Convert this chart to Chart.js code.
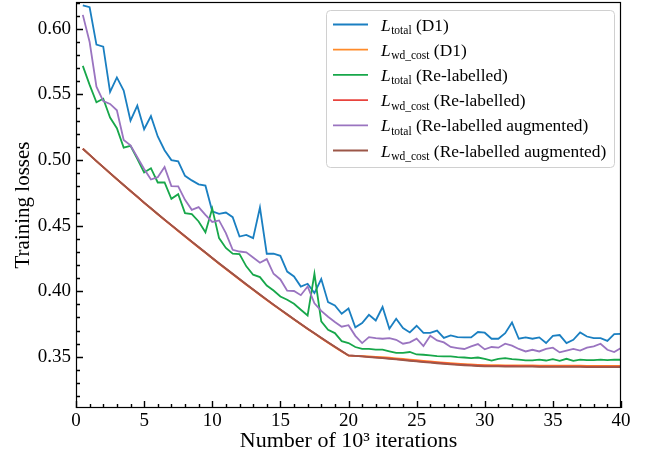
<!DOCTYPE html>
<html>
<head>
<meta charset="utf-8">
<script src="https://cdn.jsdelivr.net/npm/chart.js@4.4.1/dist/chart.umd.min.js"></script>
<style>
  html, body { margin: 0; padding: 0; background: #ffffff; }
  #wrap { position: relative; width: 654px; height: 459px; }
</style>
</head>
<body>
<div id="wrap"><canvas id="c" width="654" height="459"></canvas></div>
<script>
// Training iterations (thousands)
const iterations = [
  0.5, 1, 1.5, 2, 2.5, 3, 3.5, 4, 4.5, 5, 5.5, 6, 6.5, 7, 7.5, 8, 8.5, 9, 9.5, 10,
  10.5, 11, 11.5, 12, 12.5, 13, 13.5, 14, 14.5, 15, 15.5, 16, 16.5, 17, 17.5, 18, 18.5, 19, 19.5, 20,
  20.5, 21, 21.5, 22, 22.5, 23, 23.5, 24, 24.5, 25, 25.5, 26, 26.5, 27, 27.5, 28, 28.5, 29, 29.5, 30,
  30.5, 31, 31.5, 32, 32.5, 33, 33.5, 34, 34.5, 35, 35.5, 36, 36.5, 37, 37.5, 38, 38.5, 39, 39.5, 40
];

// L_total, D1
const totalD1 = [
  0.6180, 0.6165, 0.5880, 0.5865, 0.5520, 0.5630, 0.5530, 0.5300, 0.5415, 0.5235,
  0.5335, 0.5180, 0.5075, 0.5000, 0.4990, 0.4880, 0.4845, 0.4815, 0.4805, 0.4610,
  0.4590, 0.4600, 0.4565, 0.4417, 0.4430, 0.4405, 0.4638, 0.4286, 0.4286, 0.4270,
  0.4150, 0.4113, 0.4036, 0.4057, 0.3986, 0.4093, 0.3917, 0.3892, 0.3828, 0.3868,
  0.3725, 0.3757, 0.3820, 0.3777, 0.3880, 0.3714, 0.3790, 0.3720, 0.3686, 0.3737,
  0.3682, 0.3682, 0.3700, 0.3644, 0.3663, 0.3650, 0.3648, 0.3648, 0.3689, 0.3684,
  0.3638, 0.3638, 0.3680, 0.3762, 0.3638, 0.3648, 0.3638, 0.3648, 0.3605, 0.3660,
  0.3666, 0.3605, 0.3630, 0.3686, 0.3655, 0.3643, 0.3643, 0.3622, 0.3673, 0.3675
];

// L_wd_cost, D1
const wdCostD1 = [
  0.5086, 0.5039, 0.4992, 0.4946, 0.4899, 0.4854, 0.4809, 0.4764, 0.4719, 0.4674,
  0.4631, 0.4587, 0.4544, 0.4502, 0.4459, 0.4417, 0.4375, 0.4334, 0.4293, 0.4251,
  0.4210, 0.4170, 0.4130, 0.4090, 0.4050, 0.4011, 0.3972, 0.3933, 0.3895, 0.3858,
  0.3821, 0.3784, 0.3748, 0.3712, 0.3677, 0.3642, 0.3608, 0.3574, 0.3541, 0.3510,
  0.3508, 0.3506, 0.3503, 0.3500, 0.3497, 0.3493, 0.3488, 0.3484, 0.3479, 0.3474,
  0.3469, 0.3465, 0.3460, 0.3456, 0.3452, 0.3448, 0.3445, 0.3442, 0.3439, 0.3437,
  0.3436, 0.3436, 0.3435, 0.3435, 0.3434, 0.3434, 0.3434, 0.3433, 0.3433, 0.3433,
  0.3432, 0.3432, 0.3432, 0.3432, 0.3431, 0.3431, 0.3431, 0.3431, 0.3430, 0.3430
];

// L_total, re-labelled
const totalRelabelled = [
  0.5718, 0.5573, 0.5440, 0.5467, 0.5324, 0.5243, 0.5095, 0.5108, 0.5010, 0.4905,
  0.4938, 0.4829, 0.4829, 0.4705, 0.4740, 0.4596, 0.4588, 0.4532, 0.4450, 0.4630,
  0.4405, 0.4330, 0.4286, 0.4283, 0.4190, 0.4126, 0.4108, 0.4044, 0.4006, 0.3960,
  0.3935, 0.3904, 0.3859, 0.3815, 0.4133, 0.3770, 0.3706, 0.3681, 0.3620, 0.3605,
  0.3575, 0.3560, 0.3560, 0.3555, 0.3555, 0.3542, 0.3530, 0.3530, 0.3537, 0.3518,
  0.3516, 0.3511, 0.3505, 0.3503, 0.3503, 0.3498, 0.3495, 0.3490, 0.3495, 0.3485,
  0.3472, 0.3485, 0.3490, 0.3483, 0.3478, 0.3473, 0.3473, 0.3478, 0.3472, 0.3483,
  0.3470, 0.3485, 0.3470, 0.3478, 0.3475, 0.3475, 0.3478, 0.3475, 0.3478, 0.3478
];

// L_wd_cost, re-labelled
const wdCostRelabelled = [
  0.5086, 0.5039, 0.4992, 0.4946, 0.4900, 0.4855, 0.4809, 0.4764, 0.4720, 0.4675,
  0.4632, 0.4588, 0.4545, 0.4503, 0.4461, 0.4419, 0.4377, 0.4336, 0.4295, 0.4253,
  0.4212, 0.4172, 0.4132, 0.4092, 0.4052, 0.4013, 0.3974, 0.3935, 0.3897, 0.3860,
  0.3823, 0.3786, 0.3750, 0.3714, 0.3679, 0.3644, 0.3610, 0.3576, 0.3543, 0.3511,
  0.3508, 0.3504, 0.3500, 0.3496, 0.3492, 0.3488, 0.3483, 0.3478, 0.3473, 0.3468,
  0.3463, 0.3459, 0.3455, 0.3451, 0.3447, 0.3443, 0.3440, 0.3437, 0.3434, 0.3432,
  0.3431, 0.3431, 0.3430, 0.3430, 0.3429, 0.3429, 0.3429, 0.3428, 0.3428, 0.3428,
  0.3427, 0.3427, 0.3427, 0.3427, 0.3426, 0.3426, 0.3426, 0.3426, 0.3425, 0.3425
];

// L_total, re-labelled augmented
const totalAugmented = [
  0.6107, 0.5900, 0.5560, 0.5450, 0.5428, 0.5380, 0.5154, 0.5113, 0.5022, 0.4932,
  0.4852, 0.4870, 0.4948, 0.4802, 0.4800, 0.4697, 0.4621, 0.4641, 0.4583, 0.4528,
  0.4540, 0.4443, 0.4316, 0.4303, 0.4297, 0.4257, 0.4217, 0.4245, 0.4133, 0.4090,
  0.4005, 0.4002, 0.3970, 0.4036, 0.3908, 0.3850, 0.3806, 0.3766, 0.3730, 0.3741,
  0.3660, 0.3605, 0.3650, 0.3643, 0.3638, 0.3643, 0.3630, 0.3600, 0.3610, 0.3638,
  0.3582, 0.3660, 0.3625, 0.3610, 0.3575, 0.3567, 0.3560, 0.3580, 0.3597, 0.3557,
  0.3575, 0.3570, 0.3600, 0.3585, 0.3560, 0.3541, 0.3554, 0.3541, 0.3560, 0.3570,
  0.3534, 0.3547, 0.3560, 0.3547, 0.3570, 0.3580, 0.3600, 0.3554, 0.3536, 0.3567
];

// L_wd_cost, re-labelled augmented
const wdCostAugmented = [
  0.5086, 0.5039, 0.4992, 0.4946, 0.4900, 0.4855, 0.4810, 0.4765, 0.4721, 0.4676,
  0.4633, 0.4589, 0.4546, 0.4504, 0.4462, 0.4420, 0.4378, 0.4337, 0.4296, 0.4254,
  0.4213, 0.4173, 0.4133, 0.4093, 0.4053, 0.4014, 0.3975, 0.3936, 0.3898, 0.3861,
  0.3824, 0.3787, 0.3751, 0.3715, 0.3680, 0.3645, 0.3611, 0.3577, 0.3544, 0.3511,
  0.3507, 0.3503, 0.3498, 0.3494, 0.3490, 0.3485, 0.3480, 0.3475, 0.3470, 0.3465,
  0.3460, 0.3456, 0.3451, 0.3447, 0.3443, 0.3439, 0.3436, 0.3433, 0.3430, 0.3428,
  0.3427, 0.3427, 0.3426, 0.3426, 0.3425, 0.3425, 0.3425, 0.3424, 0.3424, 0.3424,
  0.3423, 0.3423, 0.3423, 0.3423, 0.3422, 0.3422, 0.3422, 0.3422, 0.3421, 0.3421
];

// Axis tick labels
const xTickValues = [0, 5, 10, 15, 20, 25, 30, 35, 40];
const yTickValues = [0.35, 0.40, 0.45, 0.50, 0.55, 0.60];

// Legend wording: italic L, subscript, then the run name
const seriesNames = [
  { sub: 'total',   tail: ' (D1)' },
  { sub: 'wd_cost', tail: ' (D1)' },
  { sub: 'total',   tail: ' (Re-labelled)' },
  { sub: 'wd_cost', tail: ' (Re-labelled)' },
  { sub: 'total',   tail: ' (Re-labelled augmented)' },
  { sub: 'wd_cost', tail: ' (Re-labelled augmented)' }
];
const seriesColors = ['#1a7fc1', '#ff8b2a', '#17a74a', '#e8433d', '#9a74c0', '#9c5748'];
const seriesValues = [totalD1, wdCostD1, totalRelabelled, wdCostRelabelled, totalAugmented, wdCostAugmented];

const SERIF = "'Liberation Serif', 'DejaVu Serif', 'Times New Roman', serif";

function toPoints(values) {
  return values.map((v, i) => ({ x: iterations[i], y: v }));
}

const datasets = seriesValues.map((vals, i) => ({
  label: 'L' + seriesNames[i].sub + seriesNames[i].tail,
  data: toPoints(vals),
  borderColor: seriesColors[i],
  backgroundColor: seriesColors[i],
  borderWidth: 1.8,
  pointRadius: 0,
  tension: 0,
  fill: false,
  // later series are painted above earlier ones
  order: seriesValues.length - i
}));

// Frame plus inward major/minor tick marks on the left and bottom axes
const frameAndTicks = {
  id: 'frameAndTicks',
  afterDatasetsDraw(chart) {
    const { ctx, chartArea: a, scales } = chart;
    const xs = scales.x, ys = scales.y;
    ctx.save();
    ctx.strokeStyle = '#000000';
    ctx.lineWidth = 1.4;
    ctx.lineCap = 'butt';
    ctx.beginPath();
    for (let k = 0; k <= 40; k++) {
      const px = Math.round(xs.getPixelForValue(k)) + 0.5;
      const len = (k % 5 === 0) ? 7 : 4;
      ctx.moveTo(px, a.bottom);
      ctx.lineTo(px, a.bottom - len);
    }
    for (let k = 31; k <= 63; k++) {
      const v = k / 100;
      if (v < ys.min || v > ys.max) continue;
      const py = Math.round(ys.getPixelForValue(v)) + 0.5;
      const len = (k % 5 === 0) ? 7 : 4;
      ctx.moveTo(a.left, py);
      ctx.lineTo(a.left + len, py);
    }
    ctx.stroke();
    ctx.lineWidth = 1.2;
    ctx.strokeRect(a.left + 0.5, a.top + 0.5, a.right - a.left - 1, a.bottom - a.top - 1);
    ctx.restore();
  }
};

// Legend box with italic L and subscripted loss names
const subscriptLegend = {
  id: 'subscriptLegend',
  afterDraw(chart) {
    const { ctx, chartArea: a } = chart;
    const boxW = 288, boxH = 157;
    const bx = a.right - 7 - boxW, by = a.top + 8;
    ctx.save();
    ctx.beginPath();
    ctx.roundRect(bx + 0.5, by + 0.5, boxW, boxH, 4);
    ctx.fillStyle = 'rgba(255,255,255,0.85)';
    ctx.fill();
    ctx.strokeStyle = '#d0d0d0';
    ctx.lineWidth = 1;
    ctx.stroke();
    seriesNames.forEach((s, i) => {
      const cy = by + 14.5 + i * 25.2;
      ctx.beginPath();
      ctx.strokeStyle = seriesColors[i];
      ctx.lineWidth = 1.8;
      ctx.moveTo(bx + 7, cy);
      ctx.lineTo(bx + 42, cy);
      ctx.stroke();
      const base = cy + 6;
      let tx = bx + 55;
      ctx.fillStyle = '#000000';
      ctx.textBaseline = 'alphabetic';
      ctx.textAlign = 'left';
      ctx.font = 'italic 17.4px ' + SERIF;
      ctx.fillText('L', tx, base);
      tx += ctx.measureText('L').width + 0.5;
      ctx.font = '11.5px ' + SERIF;
      ctx.fillText(s.sub, tx, base + 3.5);
      tx += ctx.measureText(s.sub).width;
      ctx.font = '17.4px ' + SERIF;
      ctx.fillText(s.tail, tx, base);
    });
    ctx.restore();
  }
};

Chart.defaults.font.family = SERIF;
Chart.defaults.color = '#000000';

new Chart(document.getElementById('c'), {
  type: 'line',
  data: { datasets },
  plugins: [frameAndTicks, subscriptLegend],
  options: {
    responsive: false,
    animation: false,
    devicePixelRatio: 1,
    layout: { padding: { left: 0, top: 2, right: 33, bottom: 0 } },
    plugins: {
      legend: { display: false },
      tooltip: { enabled: false }
    },
    scales: {
      x: {
        type: 'linear',
        min: 0,
        max: 40,
        border: { display: false },
        grid: { display: false, drawTicks: false },
        ticks: {
          padding: 2,
          font: { size: 19 },
          color: '#000000',
          maxRotation: 0
        },
        afterBuildTicks(scale) {
          scale.ticks = xTickValues.map(v => ({ value: v }));
        },
        afterFit(scale) {
          scale.height = 51;
          scale.paddingLeft = 0;
          scale.paddingRight = 0;
        },
        title: {
          display: true,
          text: 'Number of 10³ iterations',
          font: { size: 22 },
          color: '#000000',
          padding: { top: 0, bottom: 5 }
        }
      },
      y: {
        type: 'linear',
        min: 0.311,
        max: 0.6205,
        border: { display: false },
        grid: { display: false, drawTicks: false },
        ticks: {
          padding: 5,
          font: { size: 19 },
          color: '#000000',
          callback: (v) => Number(v).toFixed(2)
        },
        afterBuildTicks(scale) {
          scale.ticks = yTickValues.map(v => ({ value: v }));
        },
        afterFit(scale) {
          scale.width = 76;
          scale.paddingTop = 0;
          scale.paddingBottom = 0;
        },
        title: {
          display: true,
          text: 'Training losses',
          font: { size: 21 },
          color: '#000000',
          padding: { top: 11, bottom: 0 }
        }
      }
    }
  }
});
</script>
</body>
</html>
